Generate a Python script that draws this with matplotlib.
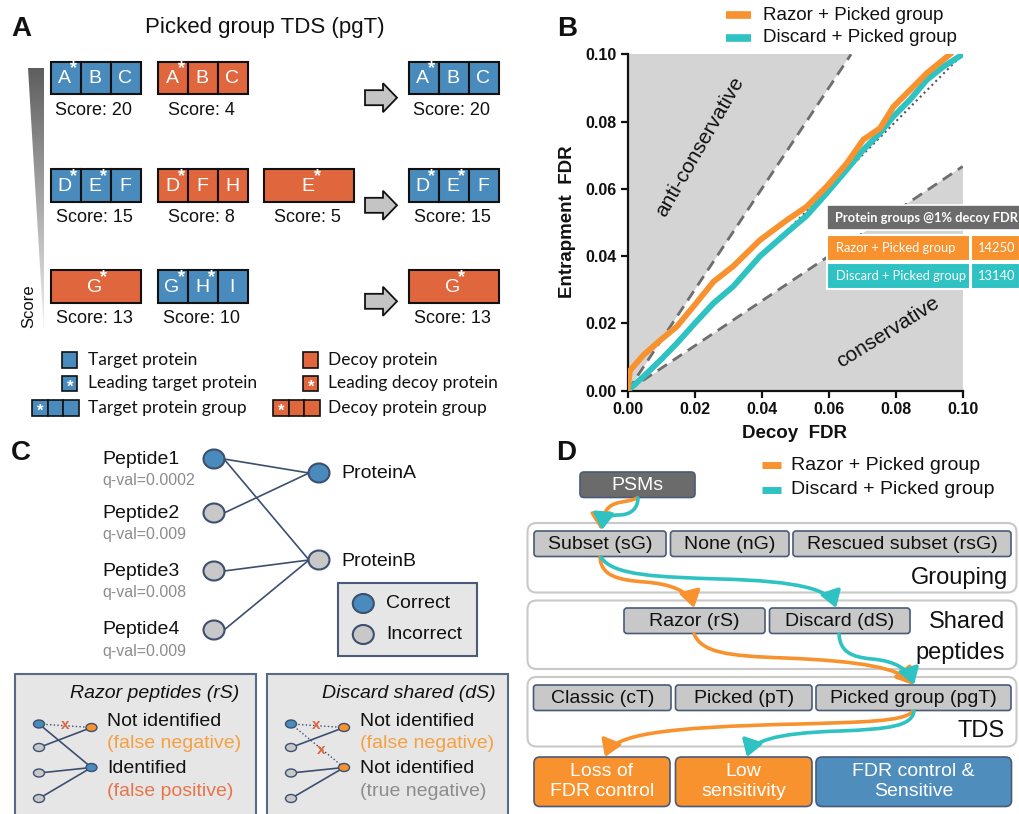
import numpy as np
import matplotlib
matplotlib.use('Agg')
import matplotlib.pyplot as plt
from matplotlib.patches import Rectangle, Polygon, Ellipse, FancyBboxPatch, FancyArrowPatch
from matplotlib.path import Path
from matplotlib.colors import LinearSegmentedColormap

plt.rcParams['font.family'] = ['Liberation Sans', 'DejaVu Sans']

# ---------------- data ----------------
series_names = ["Razor + Picked group", "Discard + Picked group"]
razor_decoy_fdr = [0.0, 0.0003, 0.0007, 0.0047, 0.0097, 0.0146, 0.020, 0.0256, 0.0315, 0.0395,
                   0.0475, 0.0534, 0.0594, 0.0654, 0.0703, 0.0753, 0.0793, 0.0843, 0.0893, 0.0962]
razor_entrap_fdr = [0.0, 0.003, 0.006, 0.0106, 0.015, 0.019, 0.0255, 0.0324, 0.037, 0.0448,
                    0.0507, 0.0547, 0.0607, 0.0676, 0.0746, 0.078, 0.0844, 0.0894, 0.0944, 0.100]
discard_decoy_fdr = [0.0, 0.0047, 0.0097, 0.0146, 0.020, 0.0256, 0.0315, 0.0395, 0.0475, 0.0534,
                     0.0594, 0.0654, 0.0703, 0.0753, 0.0793, 0.0843, 0.0893, 0.0942, 0.100]
discard_entrap_fdr = [0.0, 0.0042, 0.009, 0.014, 0.020, 0.026, 0.031, 0.040, 0.047, 0.052,
                      0.0587, 0.0657, 0.0716, 0.0766, 0.0815, 0.0865, 0.0924, 0.0963, 0.100]
fdr_ticks = [0.00, 0.02, 0.04, 0.06, 0.08, 0.10]
table_header = "Protein groups @1% decoy FDR"
table_counts = [14250, 13140]

# panel A groups: (kind, labels, score)
groups_in = [
    [("target", ["A*", "B", "C"], 20), ("decoy", ["A*", "B", "C"], 4)],
    [("target", ["D*", "E*", "F"], 15), ("decoy", ["D*", "F", "H"], 8), ("decoy", ["E*"], 5)],
    [("decoy", ["G*"], 13), ("target", ["G*", "H*", "I"], 10)],
]
groups_out = [("target", ["A*", "B", "C"], 20), ("target", ["D*", "E*", "F"], 15), ("decoy", ["G*"], 13)]

peptides = ["Peptide1", "Peptide2", "Peptide3", "Peptide4"]
peptide_qvals = ["0.0002", "0.009", "0.008", "0.009"]
peptide_correct = [True, False, False, False]
proteins = ["ProteinA", "ProteinB"]
protein_correct = [True, False]
edges = [(0, 0), (0, 1), (1, 0), (2, 1), (3, 1)]

# ---------------- colours ----------------
BLUE = '#4a8bbd'
DECOY = '#e0663d'
ORANGE = '#f7922e'
TEAL = '#2ec2c2'
NODE_EDGE = '#3d4f6f'
GREYNODE = '#c8c8c8'
CAL = ['Lato', 'DejaVu Sans']

fig = plt.figure(figsize=(10.2, 8.14), dpi=100)
ax0 = fig.add_axes([0, 0, 1, 1])
ax0.axis('off')

def T(x, y, s, **kw):
    kw.setdefault('ha', 'left'); kw.setdefault('va', 'center')
    return ax0.text(x, y, s, **kw)

# ---------------- panel letters ----------------
for L, x, y in [("A", 11, 29), ("B", 557, 29), ("C", 11, 453), ("D", 556, 453)]:
    T(x, y, L, fontsize=20, fontweight='bold', color='#111111')

# ---------------- Panel A ----------------
T(265, 27, "Picked group TDS (pgT)", fontsize=16, ha='center', color='#111111')

def draw_group(ax, x, y, w, h, kind, labels, lw=1.5, fs=14, starfs=13):
    col = BLUE if kind == 'target' else DECOY
    n = len(labels)
    cw = w / n
    for i, lab in enumerate(labels):
        ax.add_patch(Rectangle((x + i * cw, y), cw, h, facecolor=col, edgecolor='#111111', lw=lw))
        cx = x + (i + 0.5) * cw
        letter = lab.rstrip('*')
        if letter:
            ax.text(cx - 1, y + h / 2 + 1, letter, color='white', fontsize=fs, ha='center', va='center')
        if lab.endswith('*'):
            ax.text(cx + (8 if letter else 0), y + (7 if letter else h / 2 + 4), '*', color='white',
                    fontsize=starfs, ha='center', va='center', fontweight='bold')

col_x = [50.7, 158, 264]
out_x = 408.7
row_y = [61.7, 169.3, 270.3]
box_w, box_h = 90.5, 32.5
for r, row in enumerate(groups_in):
    for c, (kind, labs, sc) in enumerate(row):
        draw_group(ax0, col_x[c], row_y[r], box_w, box_h, kind, labs)
        T(col_x[c] + box_w / 2 - 2, row_y[r] + box_h + 16, f"Score: {sc}", fontsize=13, ha='center', color='#111111')
    kind, labs, sc = groups_out[r]
    draw_group(ax0, out_x, row_y[r], box_w, box_h, kind, labs)
    T(out_x + box_w / 2 - 2, row_y[r] + box_h + 16, f"Score: {sc}", fontsize=13, ha='center', color='#111111')
    # block arrow
    cy = row_y[r] + 36 if r < 2 else row_y[r] + 31
    pts = [(365, cy - 7.5), (383, cy - 7.5), (383, cy - 14.5), (397, cy), (383, cy + 14.5), (383, cy + 7.5), (365, cy + 7.5)]
    ax0.add_patch(Polygon(pts, closed=True, facecolor='#c4c4c4', edgecolor='#111111', lw=1.3))

# score gradient triangle
cmap = LinearSegmentedColormap.from_list('g', ['#5e5e5e', '#f2f2f2'])
grad = np.linspace(0, 1, 256).reshape(-1, 1)
im = ax0.imshow(grad, extent=(27.7, 43.7, 333, 68), cmap=cmap, aspect='auto', origin='upper', zorder=1)
tri = Polygon([(27.7, 68), (43.7, 68), (43.7, 333)], closed=True, transform=ax0.transData, facecolor='none', edgecolor='none')
ax0.add_patch(tri)
im.set_clip_path(tri)
T(29, 306, "Score", fontsize=12, rotation=90, ha='center', color='#111111')

# legend A
def leg_sq(x, y, kind, star=False, n=1):
    draw_group(ax0, x, y, 15.5 * n, 15.5, kind, (["*"] + [""] * (n - 1)) if star else [""] * n, lw=1.2, starfs=12)

leg_items = [
    (62, 352, 'target', False, 1, "Target protein"),
    (62, 375.5, 'target', True, 1, "Leading target protein"),
    (32.5, 400, 'target', True, 3, "Target protein group"),
    (303, 352, 'decoy', False, 1, "Decoy protein"),
    (303, 375.5, 'decoy', True, 1, "Leading decoy protein"),
    (273.5, 400, 'decoy', True, 3, "Decoy protein group"),
]
for x, y, kind, star, n, lab in leg_items:
    leg_sq(x, y, kind, star, n)
    tx = 88 if kind == 'target' else 328
    T(tx, y + 7.5, lab, fontsize=12.5, family=CAL, color='#111111')

# ---------------- Panel C ----------------
pep_y = [459, 513, 571, 630]
prot_y = [473, 560]
pep_x, prot_x = 214, 319
for (i, j) in edges:
    ax0.plot([pep_x + 10, prot_x - 10], [pep_y[i], prot_y[j]], color=NODE_EDGE, lw=1.2, zorder=2)
for i, name in enumerate(peptides):
    T(102.5, pep_y[i], name, fontsize=14, color='#111111')
    T(102.5, pep_y[i] + 21.5, f"q-val={peptide_qvals[i]}", fontsize=11.5, color='#8c8c8c')
    ax0.add_patch(Ellipse((pep_x, pep_y[i]), 21, 19, facecolor=BLUE if peptide_correct[i] else GREYNODE,
                          edgecolor=NODE_EDGE, lw=1.5, zorder=3))
for j, name in enumerate(proteins):
    ax0.add_patch(Ellipse((prot_x, prot_y[j]), 21, 19, facecolor=BLUE if protein_correct[j] else GREYNODE,
                          edgecolor=NODE_EDGE, lw=1.5, zorder=3))
    T(341.5, prot_y[j] + 1, name, fontsize=14, color='#111111')
# legend C
ax0.add_patch(Rectangle((338.5, 583), 138.5, 73, facecolor='#e6e6e6', edgecolor='#4a5a78', lw=1.5))
for yy, c, lab in [(603.5, BLUE, "Correct"), (634.5, GREYNODE, "Incorrect")]:
    ax0.add_patch(Ellipse((363.3, yy), 21, 19, facecolor=c, edgecolor=NODE_EDGE, lw=1.5, zorder=3))
    T(386.5, yy, lab, fontsize=14, color='#111111')

# bottom boxes
for bx in [15.5, 267.5]:
    ax0.add_patch(Rectangle((bx, 673.5), 240.5, 150, facecolor='#e6e6e6', edgecolor='#5a6a85', lw=1.5))
T(239.5, 693, "Razor peptides (rS)", fontsize=14, style='italic', ha='right', color='#111111')
T(495.5, 693, "Discard shared (dS)", fontsize=14, style='italic', ha='right', color='#111111')

def mini(x0, x1, right_cols, solid, dotted, crosses):
    ly = [724, 747.5, 773, 798.5]
    ry = [727.5, 767.5]
    for (i, j) in solid:
        ax0.plot([x0, x1], [ly[i], ry[j]], color=NODE_EDGE, lw=1.2, zorder=2)
    for (i, j) in dotted:
        ax0.plot([x0, x1], [ly[i], ry[j]], color=NODE_EDGE, lw=1.0, ls=':', zorder=2)
    for k, y in enumerate(ly):
        ax0.add_patch(Ellipse((x0, y), 11, 8, facecolor=BLUE if k == 0 else GREYNODE, edgecolor=NODE_EDGE, lw=1.0, zorder=3))
    for k, y in enumerate(ry):
        ax0.add_patch(Ellipse((x1, y), 11, 8, facecolor=right_cols[k], edgecolor=NODE_EDGE, lw=1.0, zorder=3))
    for (cx, cy) in crosses:
        T(cx, cy, "x", fontsize=11, fontweight='bold', color=DECOY, ha='center', zorder=4)

mini(39, 91.5, [ORANGE, BLUE], [(1, 0), (0, 1), (2, 1), (3, 1)], [(0, 0)], [(65, 725)])
mini(291, 344, [ORANGE, ORANGE], [(1, 0), (2, 1), (3, 1)], [(0, 0), (0, 1)], [(316.5, 725), (321.5, 750)])

for tx, lines in [(107.5, [("Not identified", '#111111'), ("(false negative)", '#f7a040'),
                          ("Identified", '#111111'), ("(false positive)", '#e8744c')]),
                  (360, [("Not identified", '#111111'), ("(false negative)", '#f7a040'),
                         ("Not identified", '#111111'), ("(true negative)", '#8c8c8c')])]:
    for k, (s, c) in enumerate(lines):
        T(tx, [721.5, 744, 768.5, 791][k], s, fontsize=14, color=c)

# ---------------- Panel D ----------------
def rbox(x0, y0, x1, y1, fc, ec, lw=1.2, r=3, z=2):
    ax0.add_patch(FancyBboxPatch((x0, y0), x1 - x0, y1 - y0, boxstyle=f"round,pad=0,rounding_size={r}",
                                 facecolor=fc, edgecolor=ec, lw=lw, zorder=z))

# legend D
for yy, c, lab in [(465, ORANGE, series_names[0]), (490, TEAL, series_names[1])]:
    ax0.plot([762, 781], [yy, yy], color=c, lw=5, solid_capstyle='butt')
    T(791.5, yy, lab, fontsize=14, color='#111111')

rbox(580, 472, 695, 497.5, '#6b6b6b', '#4a5a78', r=4)
T(637.5, 485, "PSMs", fontsize=14, color='white', ha='center')

for (y0, y1) in [(523, 592.5), (600.5, 669), (677, 746.5)]:
    rbox(527.5, y0, 1016.5, y1, 'white', '#c9c9c9', lw=1.5, r=9, z=1)
T(1008, 578, "Grouping", fontsize=17, ha='right', color='#111111')
T(1005, 622.5, "Shared", fontsize=17, ha='right', color='#111111')
T(1005, 652.5, "peptides", fontsize=17, ha='right', color='#111111')
T(1005, 731, "TDS", fontsize=17, ha='right', color='#111111')

inner = [
    (534, 666, 531, 556.5, "Subset (sG)"), (670.5, 789, 531, 556.5, "None (nG)"), (793, 1011, 531, 556.5, "Rescued subset (rsG)"),
    (624, 765, 608, 633.5, "Razor (rS)"), (769.5, 910, 608, 633.5, "Discard (dS)"),
    (533.5, 671, 685, 710.5, "Classic (cT)"), (675.5, 812, 685, 710.5, "Picked (pT)"), (816, 1011, 685, 710.5, "Picked group (pgT)"),
]
for x0, x1, y0, y1, s in inner:
    rbox(x0, y0, x1, y1, '#c8c8c8', '#4a5a78', r=3)
    T((x0 + x1) / 2, (y0 + y1) / 2 + 0.5, s, fontsize=14, ha='center', color='#111111', zorder=3)

outcomes = [(534, 670, ORANGE, "Loss of\nFDR control"), (675.5, 812, ORANGE, "Low\nsensitivity"),
            (816, 1011.5, '#4f8dbd', "FDR control &\nSensitive")]
for x0, x1, c, s in outcomes:
    rbox(x0, 757, x1, 806.5, c, '#4a5a78', r=6)
    T((x0 + x1) / 2, 781.5, s, fontsize=14, ha='center', color='white', linespacing=1.2, zorder=3)

def curve(pts, color):
    codes = [Path.MOVETO] + [Path.CURVE4] * (len(pts) - 1)
    p = Path(pts, codes)
    ax0.add_patch(FancyArrowPatch(path=p, arrowstyle='-|>,head_length=0.7,head_width=0.45', mutation_scale=14,
                                  color=color, lw=2.6, zorder=5, shrinkA=0, shrinkB=0))

curve([(637, 498), (628, 503), (612, 500), (606, 511), (603, 517), (601, 521), (601, 530)], ORANGE)
curve([(638, 498), (638, 509), (630, 515), (619, 515), (607, 515), (603, 520), (602, 530)], TEAL)
curve([(600, 557), (601, 576), (618, 580), (645, 582), (672, 584), (690, 592), (694, 608)], ORANGE)
curve([(601, 557), (612, 576), (660, 577), (720, 579), (800, 581), (830, 590), (836, 608)], TEAL)
curve([(694, 634), (702, 652), (725, 656), (785, 658), (860, 661), (900, 668), (913, 685)], ORANGE)
curve([(839, 634), (840, 651), (850, 657), (872, 659), (896, 661), (909, 670), (914, 685)], TEAL)
curve([(913, 711), (905, 722), (860, 722), (800, 724), (660, 727), (614, 735), (605, 757)], ORANGE)
curve([(914, 711), (912, 726), (890, 729), (840, 731), (772, 733), (752, 742), (747, 757)], TEAL)

ax0.set_xlim(0, 1020)
ax0.set_ylim(814, 0)

# ---------------- Panel B ----------------
L, R, TOP, BOT = 627.7, 962.7, 54.3, 390.7
axB = fig.add_axes([L / 1020, (814 - BOT) / 814, (R - L) / 1020, (BOT - TOP) / 814])
axB.patch.set_alpha(0)
shade = '#d4d4d4'
axB.fill([0, 0, 0.1 / 1.5], [0, 0.1, 0.1], color=shade, lw=0, zorder=0)
axB.fill([0, 0.1, 0.1], [0, 0, 0.1 / 1.5], color=shade, lw=0, zorder=0)
axB.plot([0, 0.1 / 1.5], [0, 0.1], ls=(0, (4, 2.5)), color='#6e6e6e', lw=2, zorder=1)
axB.plot([0, 0.1], [0, 0.1 / 1.5], ls=(0, (4, 2.5)), color='#6e6e6e', lw=2, zorder=1)
axB.plot([0, 0.1], [0, 0.1], ls=':', color='#555555', lw=1.5, zorder=1)
axB.plot(discard_decoy_fdr, discard_entrap_fdr, color=TEAL, lw=4.2, zorder=3, solid_joinstyle='round')
axB.plot(razor_decoy_fdr, razor_entrap_fdr, color=ORANGE, lw=4.2, zorder=4, solid_joinstyle='round')
axB.set_xlim(0, 0.1)
axB.set_ylim(0, 0.1)
axB.set_xticks(fdr_ticks)
axB.set_yticks(fdr_ticks)
axB.set_xticklabels([f"{v:.2f}" for v in fdr_ticks])
axB.set_yticklabels([f"{v:.2f}" for v in fdr_ticks])
for s in ['top', 'right']:
    axB.spines[s].set_visible(False)
for s in ['left', 'bottom']:
    axB.spines[s].set_linewidth(1.6)
    axB.spines[s].set_color('#111111')
axB.tick_params(direction='out', length=5, width=1.6, labelsize=11.5, pad=3, colors='#111111')
for lab in axB.get_xticklabels() + axB.get_yticklabels():
    lab.set_fontweight('bold')
axB.text(0.0216, 0.0725, "anti-conservative", rotation=60, fontsize=15, ha='center', va='center',
         rotation_mode='anchor', color='#111111', zorder=5)
axB.text(0.0778, 0.0175, "conservative", rotation=32, fontsize=15, ha='center', va='center',
         rotation_mode='anchor', color='#111111', zorder=5)
fig.text(568 / 1020, 1 - 221.7 / 814, "Entrapment  FDR", rotation=90, fontsize=13.5, fontweight='bold',
         ha='center', va='center', color='#111111')
fig.text(795 / 1020, 1 - 433 / 814, "Decoy  FDR", fontsize=13.5, fontweight='bold', ha='center', va='center',
         color='#111111')

# top overlay for legend + table
axT = fig.add_axes([0, 0, 1, 1], zorder=10)
axT.axis('off')
axT.patch.set_alpha(0)
for yy, c, lab in [(15, ORANGE, series_names[0]), (38, TEAL, series_names[1])]:
    axT.plot([726, 751], [yy, yy], color=c, lw=5.5, solid_capstyle='butt')
    axT.text(763, yy, lab, fontsize=13.5, ha='left', va='center', color='#111111')

axT.add_patch(Rectangle((827.5, 205), 192.5, 25, facecolor='#6b6b6b', edgecolor='white', lw=1.2))
axT.text(835, 217.5, table_header, fontsize=9.3, fontweight='bold', family=CAL, color='white', ha='left', va='center')
row_cols = [ORANGE, TEAL]
for k in range(2):
    y0 = 235 + k * 27.5
    axT.add_patch(Rectangle((827.5, y0), 143, 26, facecolor=row_cols[k], edgecolor='white', lw=1.5))
    axT.add_patch(Rectangle((971.5, y0), 48.5, 26, facecolor=row_cols[k], edgecolor='white', lw=1.5))
    axT.text(836, y0 + 13, series_names[k], fontsize=9.3, family=CAL, color='white', ha='left', va='center')
    axT.text(997, y0 + 13, str(table_counts[k]), fontsize=9.3, family=CAL, color='white', ha='center', va='center')
axT.set_xlim(0, 1020)
axT.set_ylim(814, 0)

fig.savefig('out.png', dpi=100)
